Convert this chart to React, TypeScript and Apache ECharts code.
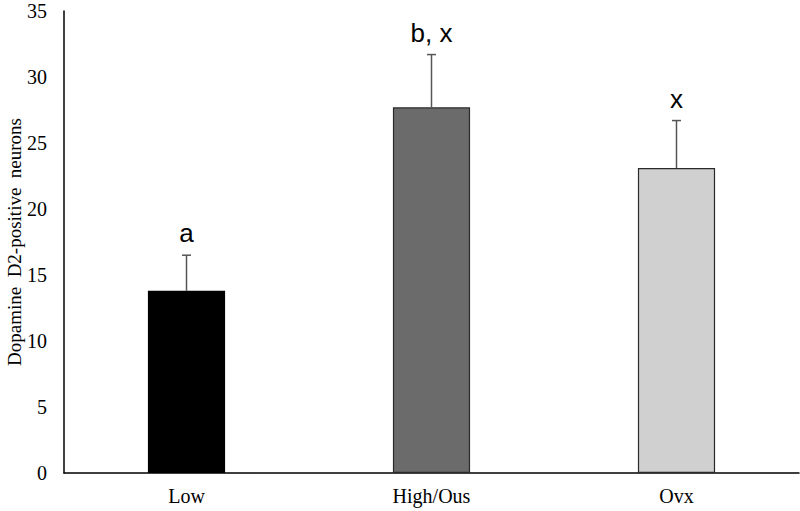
import React, { useEffect, useRef } from "react";
import * as echarts from "echarts";

const categories = ["Low", "High/Ous", "Ovx"];
const means = [13.8, 27.7, 23.1];
const errorTops = [16.5, 31.7, 26.7];
const letters = ["a", "b, x", "x"];
const barColors = ["#000000", "#6b6b6b", "#d0d0d0"];
const yTicks = [0, 5, 10, 15, 20, 25, 30, 35];

export default function App() {
  const ref = useRef<HTMLDivElement>(null);
  useEffect(() => {
    if (!ref.current) return;
    const chart = echarts.init(ref.current, null, { renderer: "svg" });
    const errData = categories.map((c, i) => [i, means[i], errorTops[i]]);
    chart.setOption({
      animation: false,
      backgroundColor: "#ffffff",
      grid: { left: 64, right: 1, top: 11, bottom: 38, outerBoundsMode: "none", containLabel: false },
      xAxis: {
        type: "category",
        data: categories,
        axisLine: { show: true, lineStyle: { color: "#000", width: 1.5 } },
        axisTick: { show: false },
        axisLabel: {
          color: "#000",
          fontFamily: "Liberation Serif",
          fontSize: 20,
          margin: 13,
        },
      },
      yAxis: {
        type: "value",
        min: yTicks[0],
        max: yTicks[yTicks.length - 1],
        interval: 5,
        name: "Dopamine  D2-positive  neurons",
        nameLocation: "middle",
        nameGap: 40,
        nameMoveOverlap: false,
        nameRotate: 90,
        nameTextStyle: { color: "#000", fontFamily: "Liberation Serif", fontSize: 19 },
        axisLine: { show: true, lineStyle: { color: "#000", width: 1.5 } },
        axisTick: { show: false },
        splitLine: { show: false },
        axisLabel: {
          color: "#000",
          fontFamily: "Liberation Serif",
          fontSize: 20,
          margin: 17,
        },
      },
      series: [
        {
          type: "bar",
          barWidth: "31.5%",
          data: means.map((v, i) => ({
            value: v,
            itemStyle: {
              color: barColors[i],
              borderColor: i === 0 ? "#000" : "#2a2a2a",
              borderWidth: i === 0 ? 0 : 1.2,
            },
          })),
        },
        {
          type: "custom",
          data: errData,
          z: 10,
          renderItem: (params: any, api: any) => {
            const x = api.value(0);
            const low = api.coord([x, api.value(1)]);
            const high = api.coord([x, api.value(2)]);
            const label = letters[params.dataIndex];
            return {
              type: "group",
              children: [
                {
                  type: "line",
                  shape: { x1: high[0], y1: low[1], x2: high[0], y2: high[1] },
                  style: { stroke: "#555", lineWidth: 1.5 },
                },
                {
                  type: "line",
                  shape: { x1: high[0] - 4.5, y1: high[1], x2: high[0] + 4.5, y2: high[1] },
                  style: { stroke: "#555", lineWidth: 1.5 },
                },
                {
                  type: "text",
                  x: high[0],
                  y: high[1] - 22,
                  style: {
                    text: label,
                    fill: "#000",
                    font: "26px 'Liberation Sans', Arial, sans-serif",
                    textAlign: "center",
                    textVerticalAlign: "middle",
                  },
                },
              ],
            };
          },
        },
      ],
    });
    return () => chart.dispose();
  }, []);
  return <div ref={ref} style={{ width: 800, height: 511, position: "absolute", left: 0, top: 0 }} />;
}
